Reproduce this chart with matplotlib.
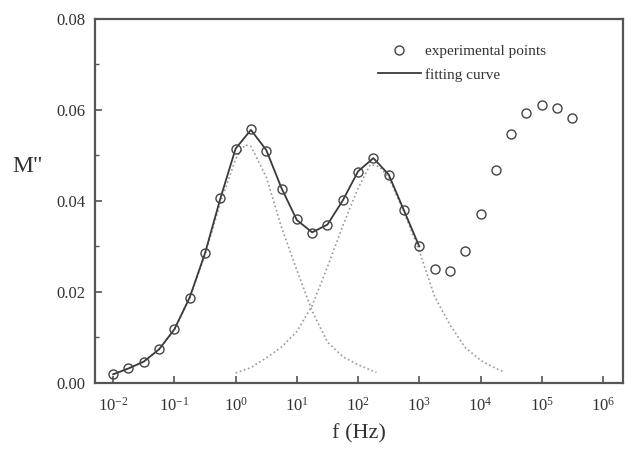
import numpy as np
import matplotlib
matplotlib.use("Agg")
import matplotlib.pyplot as plt
from matplotlib.ticker import FixedLocator, NullLocator, FuncFormatter, MultipleLocator

plt.rcParams['font.family'] = ['Liberation Serif', 'DejaVu Serif']
plt.rcParams['mathtext.fontset'] = 'custom'
plt.rcParams['mathtext.rm'] = 'Liberation Serif'
plt.rcParams['mathtext.it'] = 'Liberation Serif:italic'

# experimental points (log10 of frequency in Hz, M'')
exp_logf = [-2.0, -1.75, -1.5, -1.25, -1.0, -0.75, -0.5, -0.25, 0.0, 0.25, 0.5, 0.75,
            1.0, 1.25, 1.5, 1.75, 2.0, 2.25, 2.5, 2.75, 3.0, 3.25, 3.5, 3.75, 4.0,
            4.25, 4.5, 4.75, 5.0, 5.25, 5.5]
exp_M = [0.0020, 0.0033, 0.0046, 0.0075, 0.0119, 0.0187, 0.0286, 0.0407, 0.0514, 0.0558,
         0.0510, 0.0426, 0.0360, 0.0330, 0.0347, 0.0402, 0.0464, 0.0495, 0.0457, 0.0380,
         0.0301, 0.0251, 0.0246, 0.0290, 0.0371, 0.0468, 0.0547, 0.0593, 0.0611, 0.0604,
         0.0582]

# fitting curve (solid)
fit_logf = [-2.0, -1.75, -1.5, -1.25, -1.0, -0.75, -0.5, -0.25, 0.0, 0.25, 0.5, 0.75,
            1.0, 1.25, 1.5, 1.75, 2.0, 2.25, 2.5, 2.75, 3.0]
fit_M = [0.0019, 0.0032, 0.0047, 0.0074, 0.0118, 0.0188, 0.0285, 0.0405, 0.0515, 0.0556,
         0.0512, 0.0428, 0.0358, 0.0331, 0.0348, 0.0401, 0.0465, 0.0494, 0.0458, 0.0379,
         0.0300]

# low-frequency relaxation component (dotted)
p1_logf = [-2.0, -1.75, -1.5, -1.25, -1.0, -0.75, -0.5, -0.25, 0.0, 0.15, 0.25, 0.5, 0.75,
           1.0, 1.25, 1.5, 1.75, 2.0, 2.3]
p1_M = [0.0019, 0.0032, 0.0047, 0.0074, 0.0117, 0.0186, 0.0282, 0.0395, 0.0492, 0.0523,
        0.0520, 0.0453, 0.0342, 0.0248, 0.0158, 0.0090, 0.0058, 0.0040, 0.0023]

# high-frequency relaxation component (dotted)
p2_logf = [0.0, 0.25, 0.5, 0.75, 1.0, 1.25, 1.5, 1.75, 2.0, 2.2, 2.35, 2.5, 2.75, 3.0, 3.25,
           3.5, 3.75, 4.0, 4.25, 4.4]
p2_M = [0.0022, 0.0034, 0.0055, 0.0079, 0.0113, 0.0170, 0.0255, 0.0345, 0.0428, 0.0480,
        0.0475, 0.0452, 0.0376, 0.0290, 0.0190, 0.0128, 0.0078, 0.0050, 0.0032, 0.0024]

xtick_exps = [-2, -1, 0, 1, 2, 3, 4, 5, 6]
yticks = [0.00, 0.02, 0.04, 0.06, 0.08]

fig = plt.figure(figsize=(6.32, 4.49), dpi=100)
ax = fig.add_axes([0.150, 0.147, 0.836, 0.811])

tc = '#333333'
dot_c = '#999999'
ax.plot(10 ** np.array(p1_logf), p1_M, linestyle=(0, (1, 1.6)), color=dot_c, lw=1.2)
ax.plot(10 ** np.array(p2_logf), p2_M, linestyle=(0, (1, 1.6)), color=dot_c, lw=1.2)
line, = ax.plot(10 ** np.array(fit_logf), fit_M, color='#3a3a3a', lw=1.3, label='fitting curve')
pts, = ax.plot(10 ** np.array(exp_logf), exp_M, linestyle='none', marker='o', ms=6.5,
               mfc='none', mec='#444444', mew=1.0, label='experimental points')

ax.set_xscale('log')
ax.set_xlim(10 ** -2.3, 10 ** 6.33)
ax.set_ylim(0, 0.08)

ax.xaxis.set_major_locator(FixedLocator([10.0 ** e for e in xtick_exps]))
ax.xaxis.set_minor_locator(NullLocator())
ax.xaxis.set_major_formatter(FuncFormatter(lambda v, p: r'$10^{%d}$' % round(np.log10(v))))
ax.yaxis.set_major_locator(FixedLocator(yticks))
ax.yaxis.set_minor_locator(MultipleLocator(0.01))
ax.yaxis.set_major_formatter(FuncFormatter(lambda v, p: '%.2f' % v))

ax.tick_params(which='both', direction='in', top=False, right=False, colors='#555555',
               labelcolor=tc)
ax.tick_params(which='major', length=5, width=1.2, labelsize=12)
ax.tick_params(which='minor', length=3, width=1.0)
ax.tick_params(axis='x', pad=10)
ax.tick_params(axis='y', pad=7)

for s in ax.spines.values():
    s.set_color('#555555')
    s.set_linewidth(1.6)

ax.set_xlabel('f (Hz)', fontsize=16, color=tc, labelpad=7)
fig.text(28 / 632, 1 - 167 / 449, 'M"', fontsize=17, color=tc, ha='center', va='center')

leg = ax.legend(handles=[pts, line], loc='upper left', bbox_to_anchor=(0.536, 0.93),
                frameon=False, fontsize=11, handlelength=2.8, handletextpad=0.3,
                labelspacing=0.65, borderpad=0, borderaxespad=0)
for t in leg.get_texts():
    t.set_color(tc)

fig.savefig('out.png', dpi=100)
